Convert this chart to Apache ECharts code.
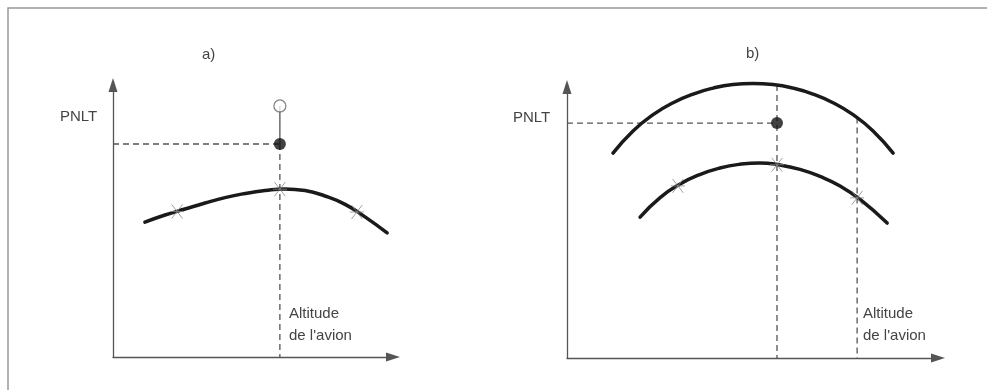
<!DOCTYPE html>
<html>
<head>
<meta charset="utf-8">
<script src="https://cdn.jsdelivr.net/npm/echarts@6/dist/echarts.min.js"></script>
<style>
  html, body { margin: 0; padding: 0; background: #fff; }
  #chart { width: 987px; height: 390px; }
</style>
</head>
<body>
<div id="chart"></div>
<script>
// panel a) : one PNLT curve, measured points, flight altitude
var curveA = [[11.4, 49.6], [18.6, 52.2], [25.7, 54.4], [32.9, 56.6], [40.0, 58.6], [47.1, 60.1], [54.3, 61.2], [61.4, 61.8], [68.6, 61.2], [75.7, 59.2], [82.9, 56.1], [90.0, 51.5], [97.9, 45.6]];
var starsA = [[22.9, 53.5], [59.6, 61.7], [87.1, 53.3]];
var altitudeA = 59.6;
var dotA = 78.3;
var openA = 92.3;

// panel b) : two PNLT curves
var upperB = [[12.4, 75.6], [17.8, 83.8], [23.2, 89.8], [28.6, 94.2], [34.0, 97.4], [39.4, 99.6], [44.7, 100.9], [50.1, 101.3], [55.5, 100.9], [60.9, 99.6], [66.3, 97.4], [71.7, 94.2], [77.1, 89.8], [82.5, 83.8], [87.9, 75.6]];
var lowerB = [[19.7, 52.0], [25.1, 59.2], [30.5, 64.2], [35.8, 67.7], [41.2, 70.1], [46.6, 71.5], [52.0, 72.0], [57.4, 71.2], [62.8, 69.6], [68.2, 67.0], [73.6, 63.5], [79.0, 58.5], [86.3, 49.8]];
var starsB = [[29.9, 63.5], [56.6, 71.3], [78.2, 59.1]];
var altitudeB = [56.6, 78.2];
var dotB = 86.7;
var topB = [100.7, 88.7];

var chart = echarts.init(document.getElementById("chart"));

var starPath = "path://M-1,-1L1,1M1,-1L-1,1M-1.3,0L1.3,0";
var textStyle = { fill: "#444", fontFamily: "Liberation Sans, Arial", fontSize: 15 };

function axis(idx) {
  return {
    type: "value",
    gridIndex: idx,
    min: 0,
    max: 100,
    axisLine: {
      show: true,
      symbol: ["none", "triangle"],
      symbolSize: [9, 14],
      lineStyle: { color: "#555", width: 1.3 }
    },
    axisTick: { show: false },
    axisLabel: { show: false },
    splitLine: { show: false }
  };
}

function curve(idx, data) {
  return {
    type: "line",
    xAxisIndex: idx,
    yAxisIndex: idx,
    data: data,
    smooth: 0.5,
    showSymbol: false,
    clip: false,
    lineStyle: { color: "#1a1a1a", width: 3.5, cap: "round" },
    z: 3
  };
}

function dashed(idx, data) {
  return {
    type: "line",
    xAxisIndex: idx,
    yAxisIndex: idx,
    data: data,
    showSymbol: false,
    clip: false,
    lineStyle: { color: "#555", width: 1.3, type: [6, 4] },
    z: 2
  };
}

function stars(idx, data) {
  return {
    type: "scatter",
    xAxisIndex: idx,
    yAxisIndex: idx,
    data: data,
    symbol: starPath,
    symbolSize: 14,
    itemStyle: { color: "transparent", borderColor: "#888", borderWidth: 1 },
    z: 4
  };
}

function dot(idx, data, open) {
  return {
    type: "scatter",
    xAxisIndex: idx,
    yAxisIndex: idx,
    data: data,
    symbol: "circle",
    symbolSize: 12,
    itemStyle: open
      ? { color: "#fff", borderColor: "#666", borderWidth: 1.3 }
      : { color: "#111" },
    z: 5
  };
}

var option = {
  animation: false,
  backgroundColor: "#fff",
  grid: [
    { left: 113, top: 85, width: 280, height: 272 },
    { left: 567, top: 87, width: 371, height: 271 }
  ],
  xAxis: [axis(0), axis(1)],
  yAxis: [axis(0), axis(1)],
  graphic: [
    { type: "rect", shape: { x: 8, y: 8, width: 1000, height: 400 }, style: { fill: "none", stroke: "#999", lineWidth: 1.5 } },
    { type: "text", x: 202, y: 47, style: Object.assign({ text: "a)" }, textStyle) },
    { type: "text", x: 746, y: 46, style: Object.assign({ text: "b)" }, textStyle) },
    { type: "text", x: 60, y: 109, style: Object.assign({ text: "PNLT" }, textStyle) },
    { type: "text", x: 513, y: 110, style: Object.assign({ text: "PNLT" }, textStyle) },
    { type: "text", x: 289, y: 303, style: Object.assign({ text: "Altitude\nde l'avion", lineHeight: 22 }, textStyle) },
    { type: "text", x: 863, y: 303, style: Object.assign({ text: "Altitude\nde l'avion", lineHeight: 22 }, textStyle) }
  ],
  series: [
    curve(0, curveA),
    stars(0, starsA),
    dashed(0, [[0, dotA], [altitudeA, dotA]]),
    dashed(0, [[altitudeA, dotA], [altitudeA, 0]]),
    {
      type: "line", xAxisIndex: 0, yAxisIndex: 0,
      data: [[altitudeA, openA], [altitudeA, dotA]],
      showSymbol: false,
      lineStyle: { color: "#555", width: 1.3 },
      z: 2
    },
    dot(0, [[altitudeA, dotA]], false),
    dot(0, [[altitudeA, openA]], true),

    curve(1, upperB),
    curve(1, lowerB),
    stars(1, starsB),
    dashed(1, [[0, dotB], [altitudeB[0], dotB]]),
    dashed(1, [[altitudeB[0], topB[0]], [altitudeB[0], 0]]),
    dashed(1, [[altitudeB[1], topB[1]], [altitudeB[1], 0]]),
    dot(1, [[altitudeB[0], dotB]], false)
  ]
};

chart.setOption(option);
</script>
</body>
</html>
